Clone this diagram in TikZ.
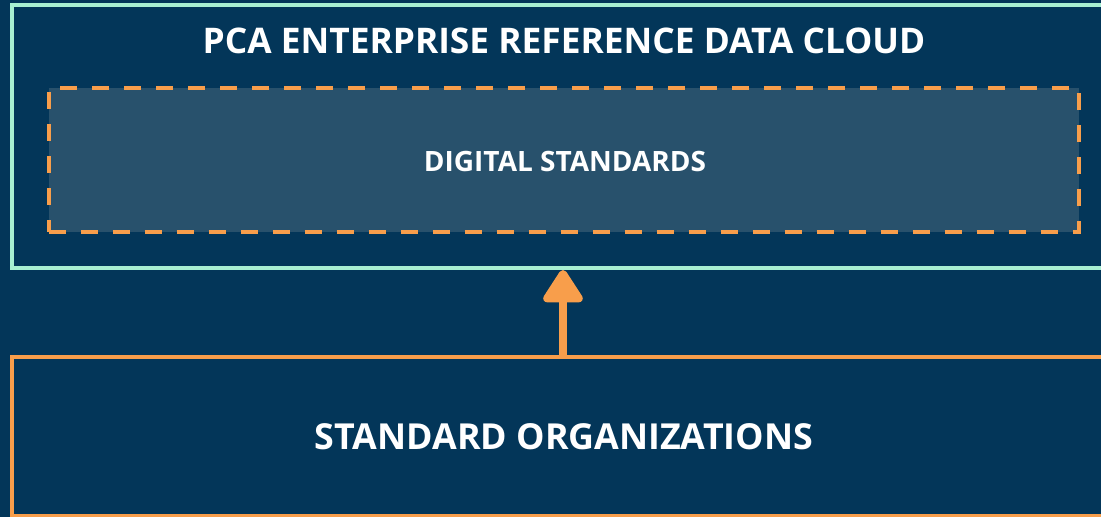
\documentclass[tikz,border=0pt]{standalone}
\usepackage{fontspec}
\setmainfont{Open Sans}
\usetikzlibrary{arrows.meta}
\definecolor{bg}{HTML}{033659}
\definecolor{panel}{HTML}{28516C}
\definecolor{mint}{HTML}{A8F0D2}
\definecolor{orangeline}{HTML}{F89E4B}
\tikzset{
  cloudbox/.style={draw=mint, line width=4pt, rectangle, inner sep=0pt, outer sep=0pt},
  dashbox/.style={draw=orangeline, fill=panel, line width=4pt, dash pattern=on 17pt off 15pt, rectangle, inner sep=0pt, outer sep=0pt},
  orgbox/.style={draw=orangeline, line width=4pt, rectangle, inner sep=0pt, outer sep=0pt},
  label/.style={text=white, font=\bfseries, inner sep=0pt, outer sep=0pt},
  uparrow/.style={draw=orangeline, line width=8pt, -{Triangle[width=44pt,length=36pt,round]}}
}
\begin{document}
\begin{tikzpicture}[x=1pt,y=-1pt]
\clip (0,0) rectangle (1101,517);
\fill[bg] (0,0) rectangle (1101,517);
\node[cloudbox, minimum width=1138pt, minimum height=263pt] (cloud) at (581,136.5) {};
\node[dashbox, minimum width=1030pt, minimum height=144pt] (digital) at (563.5,160) {};
\node[orgbox, minimum width=1138pt, minimum height=159pt] (orgs) at (581,436.5) {};
\node[label, font=\bfseries\fontsize{35.3}{42}\selectfont] (title) at (564,41) {PCA ENTERPRISE REFERENCE DATA CLOUD};
\node[label, font=\bfseries\fontsize{28}{34}\selectfont] (digitaltext) at (565,161) {DIGITAL STANDARDS};
\node[label, font=\bfseries\fontsize{35.8}{43}\selectfont] (orgstext) at (564,437) {STANDARD ORGANIZATIONS};
\coordinate (arrowx) at (563,0);
\draw[uparrow] (arrowx |- orgs.north) -- ([yshift=-2pt]arrowx |- cloud.south);
\end{tikzpicture}
\end{document}
